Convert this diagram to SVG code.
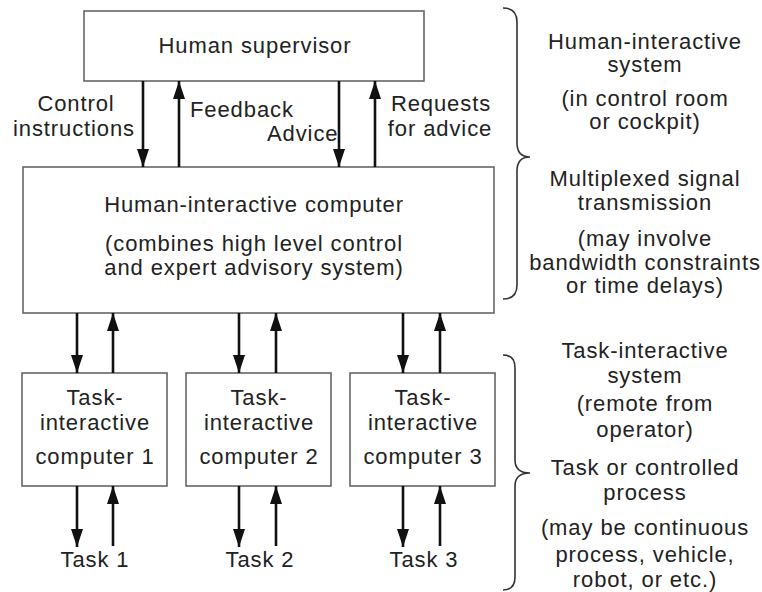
<svg xmlns="http://www.w3.org/2000/svg" width="762" height="592" viewBox="0 0 762 592">
<defs>
<style>
text{font-family:"Liberation Sans",Arial,Helvetica,sans-serif;font-size:22px;fill:#222;letter-spacing:0.9px}
.c{text-anchor:middle}
.box{fill:#fff;stroke:#666;stroke-width:1.6}
.arr{stroke:#111;stroke-width:2.6;fill:none}
.brace{stroke:#333;stroke-width:1.6;fill:none}
</style>
<marker id="a" viewBox="0 0 18 12" refX="18" refY="6" markerWidth="18" markerHeight="12" markerUnits="userSpaceOnUse" orient="auto">
<path d="M0,0 L18,6 L0,12 z" fill="#111"/>
</marker>
</defs>
<rect width="762" height="592" fill="#fff"/>

<g id="human-supervisor">
<rect class="box" x="84" y="11" width="340" height="70"/>
<text class="c" x="255" y="53">Human supervisor</text>
</g>

<g id="human-interactive-computer">
<rect class="box" x="23" y="167" width="471" height="146"/>
<text class="c" x="254" y="212">Human-interactive computer</text>
<text class="c" x="254" y="251">(combines high level control</text>
<text class="c" x="254" y="275">and expert advisory system)</text>
</g>

<g id="task-computer-1">
<rect class="box" x="22" y="373" width="145" height="113"/>
<text class="c" x="95" y="405">Task-</text>
<text class="c" x="95" y="430">interactive</text>
<text class="c" x="95" y="464">computer 1</text>
</g>
<g id="task-computer-2">
<rect class="box" x="186" y="373" width="145" height="113"/>
<text class="c" x="259" y="405">Task-</text>
<text class="c" x="259" y="430">interactive</text>
<text class="c" x="259" y="464">computer 2</text>
</g>
<g id="task-computer-3">
<rect class="box" x="350" y="373" width="145" height="113"/>
<text class="c" x="423" y="405">Task-</text>
<text class="c" x="423" y="430">interactive</text>
<text class="c" x="423" y="464">computer 3</text>
</g>

<g id="task-1"><text class="c" x="95" y="567">Task 1</text></g>
<g id="task-2"><text class="c" x="260" y="567">Task 2</text></g>
<g id="task-3"><text class="c" x="424" y="567">Task 3</text></g>

<g id="connectors">
<line class="arr" x1="143" y1="81" x2="143" y2="167" marker-end="url(#a)"/>
<line class="arr" x1="179" y1="167" x2="179" y2="81" marker-end="url(#a)"/>
<line class="arr" x1="339" y1="81" x2="339" y2="167" marker-end="url(#a)"/>
<line class="arr" x1="375" y1="167" x2="375" y2="81" marker-end="url(#a)"/>

<line class="arr" x1="77" y1="313" x2="77" y2="373" marker-end="url(#a)"/>
<line class="arr" x1="113" y1="373" x2="113" y2="313" marker-end="url(#a)"/>
<line class="arr" x1="239" y1="313" x2="239" y2="373" marker-end="url(#a)"/>
<line class="arr" x1="276" y1="373" x2="276" y2="313" marker-end="url(#a)"/>
<line class="arr" x1="403" y1="313" x2="403" y2="373" marker-end="url(#a)"/>
<line class="arr" x1="440" y1="373" x2="440" y2="313" marker-end="url(#a)"/>

<line class="arr" x1="77" y1="486" x2="77" y2="547" marker-end="url(#a)"/>
<line class="arr" x1="113" y1="546" x2="113" y2="486" marker-end="url(#a)"/>
<line class="arr" x1="239" y1="486" x2="239" y2="547" marker-end="url(#a)"/>
<line class="arr" x1="276" y1="546" x2="276" y2="486" marker-end="url(#a)"/>
<line class="arr" x1="403" y1="486" x2="403" y2="547" marker-end="url(#a)"/>
<line class="arr" x1="440" y1="546" x2="440" y2="486" marker-end="url(#a)"/>

<text class="c" x="76" y="111">Control</text>
<text class="c" x="74" y="136">instructions</text>
<text x="190" y="117">Feedback</text>
<text x="267" y="141">Advice</text>
<text class="c" x="441" y="111">Requests</text>
<text class="c" x="440" y="136">for advice</text>
</g>

<g id="brace-upper">
<path class="brace" d="M503,8 Q517,8 517,22 L517,143 Q517,157 530,157 Q517,157 517,171 L517,285 Q517,299 503,299"/>
</g>
<g id="brace-lower">
<path class="brace" d="M503,355 Q515,355 515,368 L515,460 Q515,473 530,473 Q515,473 515,486 L515,577 Q515,590 503,590"/>
</g>

<g id="labels-upper">
<text class="c" x="645" y="49">Human-interactive</text>
<text class="c" x="645" y="72">system</text>
<text class="c" x="645" y="106">(in control room</text>
<text class="c" x="645" y="129">or cockpit)</text>
<text class="c" x="645" y="186">Multiplexed signal</text>
<text class="c" x="645" y="210">transmission</text>
<text class="c" x="645" y="246">(may involve</text>
<text class="c" x="645" y="270">bandwidth constraints</text>
<text class="c" x="645" y="293">or time delays)</text>
</g>
<g id="labels-lower">
<text class="c" x="645" y="358">Task-interactive</text>
<text class="c" x="645" y="383">system</text>
<text class="c" x="645" y="411">(remote from</text>
<text class="c" x="645" y="437">operator)</text>
<text class="c" x="645" y="475">Task or controlled</text>
<text class="c" x="645" y="500">process</text>
<text class="c" x="645" y="535">(may be continuous</text>
<text class="c" x="645" y="562">process, vehicle,</text>
<text class="c" x="645" y="587">robot, or etc.)</text>
</g>
</svg>
